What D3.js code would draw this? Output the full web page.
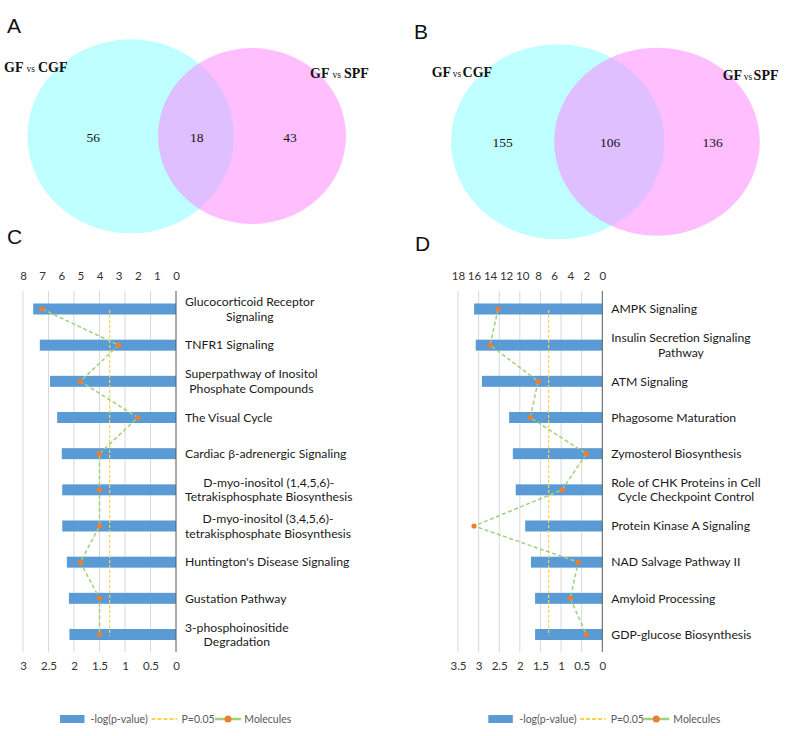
<!DOCTYPE html>
<html><head><meta charset="utf-8">
<script src="https://cdn.jsdelivr.net/npm/d3@7/dist/d3.min.js"></script>
<style>body{margin:0;background:#fff}svg{display:block}</style>
</head><body>
<svg id="fig" width="793" height="736"></svg>
<script>
// ---------------- DATA ----------------
const setLabels = [["GF", "vs", "CGF"], ["GF", "vs", "SPF"]];
const vennACounts = [56, 18, 43];   // only CGF, shared, only SPF
const vennBCounts = [155, 106, 136];

const pathwaysC = [
  "Glucocorticoid Receptor\nSignaling",
  "TNFR1 Signaling",
  "Superpathway of Inositol\nPhosphate Compounds",
  "The Visual Cycle",
  "Cardiac \u03b2-adrenergic Signaling",
  "D-myo-inositol (1,4,5,6)-\nTetrakisphosphate Biosynthesis",
  "D-myo-inositol (3,4,5,6)-\ntetrakisphosphate Biosynthesis",
  "Huntington's Disease Signaling",
  "Gustation Pathway",
  "3-phosphoinositide\nDegradation"
];
const logPC = [2.80, 2.67, 2.47, 2.33, 2.24, 2.23, 2.23, 2.14, 2.10, 2.09];
const moleculesC = [7, 3, 5, 2, 4, 4, 4, 5, 4, 4];
const topTicksC = [0, 1, 2, 3, 4, 5, 6, 7, 8];
const bottomTicksC = [0, 0.5, 1, 1.5, 2, 2.5, 3];

const pathwaysD = [
  "AMPK Signaling",
  "Insulin Secretion Signaling\nPathway",
  "ATM Signaling",
  "Phagosome Maturation",
  "Zymosterol Biosynthesis",
  "Role of CHK Proteins in Cell\nCycle Checkpoint Control",
  "Protein Kinase A Signaling",
  "NAD Salvage Pathway II",
  "Amyloid Processing",
  "GDP-glucose Biosynthesis"
];
const logPD = [3.11, 3.07, 2.92, 2.26, 2.17, 2.10, 1.87, 1.73, 1.63, 1.63];
const moleculesD = [13, 14, 8, 9, 2, 5, 16, 3, 4, 2];
const topTicksD = [0, 2, 4, 6, 8, 10, 12, 14, 16, 18];
const bottomTicksD = [0, 0.5, 1, 1.5, 2, 2.5, 3, 3.5];

const threshold = -Math.log10(0.05); // P = 0.05
const legendItems = ["-log(p-value)", "P=0.05", "Molecules"];

// ---------------- DRAW ----------------
const svg = d3.select("#fig");
const LETTER = "'Liberation Sans', Arial, sans-serif";
const SERIF = "'Liberation Serif', 'Times New Roman', serif";
const SANS = "Lato, 'Noto Sans', sans-serif";

function letter(t, x, y) {
  svg.append("text").attr("x", x).attr("y", y).text(t)
    .attr("font-family", LETTER).attr("font-size", 21).attr("fill", "#111");
}
letter("A", 7, 33); letter("B", 414, 39); letter("C", 7, 244); letter("D", 415, 251);

function venn(counts, geo) {
  const g = svg.append("g");
  g.append("ellipse").attr("cx", geo.c1[0]).attr("cy", geo.c1[1]).attr("rx", geo.r1[0]).attr("ry", geo.r1[1])
    .attr("fill", "#bfffff");
  g.append("ellipse").attr("cx", geo.c2[0]).attr("cy", geo.c2[1]).attr("rx", geo.r2[0]).attr("ry", geo.r2[1])
    .attr("fill", "rgb(255,128,255)").attr("fill-opacity", 0.5);
  counts.forEach((c, i) => {
    g.append("text").attr("x", geo.nx[i]).attr("y", geo.ny).attr("dy", "0.35em")
      .attr("text-anchor", "middle").attr("font-family", SERIF).attr("font-size", 13.5)
      .attr("fill", "#111").text(c);
  });
  setLabels.forEach((lab, i) => {
    const t = g.append("text").attr("x", geo.lx[i]).attr("y", geo.ly[i]).attr("dy", "0.35em")
      .attr("font-family", SERIF).attr("fill", "#111");
    t.append("tspan").attr("font-weight", "bold").attr("font-size", 14).text(lab[0]);
    t.append("tspan").attr("font-size", 9.5).attr("dx", geo.gap).text(lab[1]);
    t.append("tspan").attr("font-weight", "bold").attr("font-size", 14).attr("dx", geo.gap).text(lab[2]);
  });
}
venn(vennACounts, {c1: [130.7, 136.3], r1: [103.3, 97], c2: [252, 136], r2: [94, 88],
  nx: [93.3, 196.7, 290], ny: 137, lx: [4, 310], ly: [66.7, 72.3], gap: 3});
venn(vennBCounts, {c1: [557.7, 141.8], r1: [106.7, 97.5], c2: [657, 141.7], r2: [102.8, 94],
  nx: [502.7, 610, 712.7], ny: 142.5, lx: [431.7, 722.7], ly: [71.7, 74], gap: 1.5});

function barPanel(cfg) {
  const g = svg.append("g");
  const xB = d3.scaleLinear().domain([0, cfg.pMax]).range([cfg.x0, cfg.x0 - cfg.w]);
  const xT = d3.scaleLinear().domain([0, cfg.mMax]).range([cfg.x0, cfg.x0 - cfg.w]);
  const y = d3.scalePoint().domain(cfg.cats).range([309, 634.5]);
  const top = 291, bot = 652, bh = 11;

  // gridlines
  g.selectAll(".grid").data(cfg.bTicks.filter(d => d > 0)).join("line")
    .attr("x1", d => xB(d)).attr("x2", d => xB(d)).attr("y1", top).attr("y2", bot)
    .attr("stroke", "#d9d9d9").attr("stroke-width", 1);

  // bars
  g.selectAll(".bar").data(cfg.cats).join("rect")
    .attr("x", (d, i) => xB(cfg.p[i])).attr("width", (d, i) => xB(0) - xB(cfg.p[i]))
    .attr("y", d => y(d) - bh / 2).attr("height", bh).attr("fill", "#5b9bd5");

  // zero axis line
  g.append("line").attr("x1", xB(0)).attr("x2", xB(0)).attr("y1", top).attr("y2", bot)
    .attr("stroke", "#595959").attr("stroke-width", 1);

  // threshold
  g.append("line").attr("x1", xB(threshold)).attr("x2", xB(threshold))
    .attr("y1", y(cfg.cats[0]) + 1).attr("y2", y(cfg.cats[cfg.cats.length - 1]) + 1)
    .attr("stroke", "#ffd44d").attr("stroke-width", 1.2).attr("stroke-dasharray", "3,2");

  // molecules line
  const line = d3.line().x((d, i) => xT(d)).y((d, i) => y(cfg.cats[i]));
  g.append("path").attr("d", line(cfg.m)).attr("fill", "none")
    .attr("stroke", "#9fd27a").attr("stroke-width", 1.5).attr("stroke-dasharray", "4,2.5");
  g.selectAll(".pt").data(cfg.m).join("circle")
    .attr("cx", d => xT(d)).attr("cy", (d, i) => y(cfg.cats[i])).attr("r", 2.6).attr("fill", "#ed7d31");

  // axes (labels only)
  const aT = g.append("g").attr("transform", `translate(0,276)`)
    .call(d3.axisTop(xT).tickValues(cfg.tTicks).tickSize(0).tickPadding(0));
  aT.select(".domain").remove();
  aT.selectAll("text").attr("dy", "0.35em").attr("font-family", SANS).attr("font-size", 11.5).attr("fill", "#333");
  const aB = g.append("g").attr("transform", `translate(0,666)`)
    .call(d3.axisBottom(xB).tickValues(cfg.bTicks).tickSize(0).tickPadding(0).tickFormat(d3.format("")));
  aB.select(".domain").remove();
  aB.selectAll("text").attr("dy", "0.35em").attr("y", 0).attr("font-family", SANS).attr("font-size", 11.5).attr("fill", "#333");

  // category labels
  const lx = cfg.x0 + 9;
  cfg.cats.forEach(c => {
    const lines = c.split("\n");
    const cy = y(c);
    const nodes = lines.map((ln, k) => g.append("text").attr("x", lx)
      .attr("y", cy + (k - (lines.length - 1) / 2) * 14.5).attr("dy", "0.35em")
      .attr("font-family", SANS).attr("font-size", 12.2).attr("fill", "#1a1a1a").text(ln));
    const ws = nodes.map(n => n.node().getComputedTextLength());
    const mw = d3.max(ws);
    nodes.forEach((n, k) => n.attr("x", lx + (mw - ws[k]) / 2));
  });

  // legend
  const L = cfg.leg, ly = 719;
  g.append("rect").attr("x", L[0]).attr("y", ly - 4).attr("width", 24.5).attr("height", 8).attr("fill", "#5b9bd5");
  g.append("line").attr("x1", L[2]).attr("x2", L[2] + 25.5).attr("y1", ly).attr("y2", ly)
    .attr("stroke", "#ffd44d").attr("stroke-width", 2).attr("stroke-dasharray", "4,2");
  g.append("line").attr("x1", L[4]).attr("x2", L[4] + 26).attr("y1", ly).attr("y2", ly)
    .attr("stroke", "#9fd27a").attr("stroke-width", 2.5);
  g.append("circle").attr("cx", L[4] + 13).attr("cy", ly).attr("r", 3.5).attr("fill", "#ed7d31");
  legendItems.forEach((t, i) => {
    g.append("text").attr("x", L[1 + i * 2]).attr("y", ly).attr("dy", "0.35em")
      .attr("font-family", SANS).attr("font-size", 10.5).attr("fill", "#595959").text(t);
  });
}

barPanel({x0: 176, w: 153, pMax: 3, mMax: 8, cats: pathwaysC, p: logPC, m: moleculesC,
  tTicks: topTicksC, bTicks: bottomTicksC, leg: [60, 90.5, 151.5, 181.5, 215, 244.3]});
barPanel({x0: 602.3, w: 144.3, pMax: 3.5, mMax: 18, cats: pathwaysD, p: logPD, m: moleculesD,
  tTicks: topTicksD, bTicks: bottomTicksD, leg: [488.3, 519.3, 580, 610.7, 643.3, 673.3]});
</script>
</body></html>
